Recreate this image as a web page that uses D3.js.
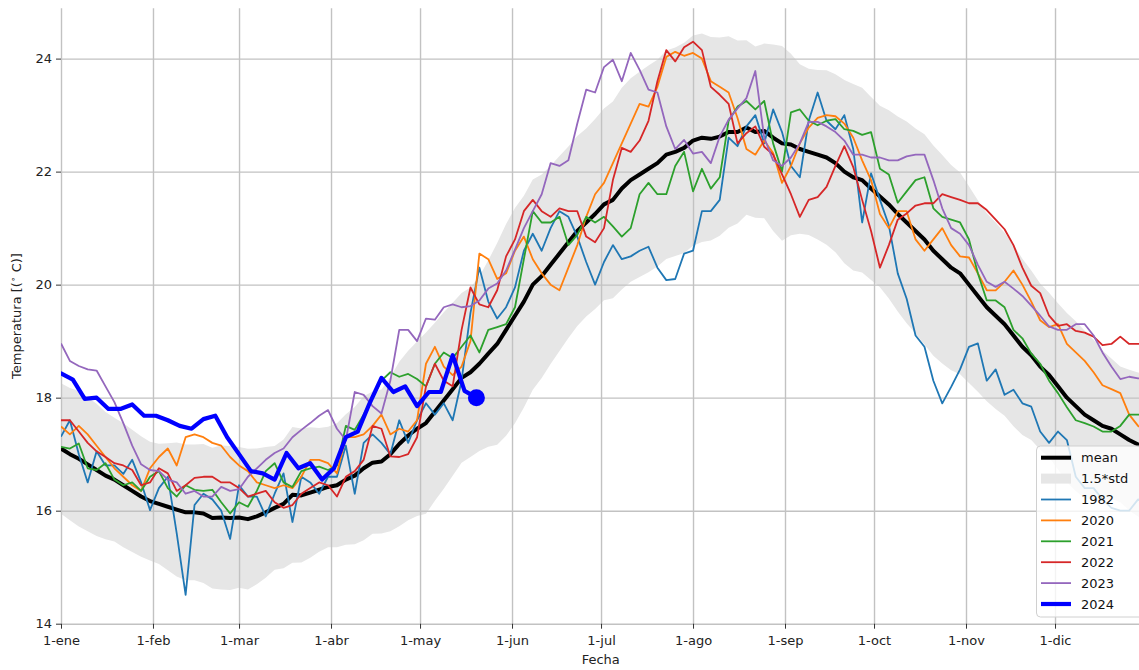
<!DOCTYPE html>
<html>
<head>
<meta charset="utf-8">
<script src="https://cdn.jsdelivr.net/npm/d3@7"></script>
<style>
  body { margin: 0; background: #fff; }
  svg { display: block; }
  text { font-family: "DejaVu Sans", sans-serif; }
</style>
</head>
<body>
<svg id="chart" width="1139" height="670"></svg>
<script>
// Sea surface temperature by day of year (leap-year calendar, day 0 = 1 January)
const STEP = 3;        // days between samples of the climatology and past years
const STEP_2024 = 4;   // days between samples of the current year

const monthStarts = [0, 31, 60, 91, 121, 152, 182, 213, 244, 274, 305, 335];
const monthLabels = ["1-ene", "1-feb", "1-mar", "1-abr", "1-may", "1-jun",
                     "1-jul", "1-ago", "1-sep", "1-oct", "1-nov", "1-dic"];
const yTicks = [14, 16, 18, 20, 22, 24];

const meanTemp = [
  17.10, 17.00, 16.92, 16.82, 16.72, 16.62, 16.55, 16.45, 16.35, 16.25,
  16.17, 16.12, 16.07, 16.02, 15.97, 15.97, 15.95, 15.87, 15.88, 15.87,
  15.88, 15.85, 15.90, 15.97, 16.05, 16.12, 16.28, 16.27, 16.32, 16.37,
  16.42, 16.45, 16.55, 16.62, 16.75, 16.85, 16.87, 17.00, 17.18, 17.33,
  17.45, 17.55, 17.75, 17.95, 18.15, 18.35, 18.45, 18.60, 18.78, 18.95,
  19.20, 19.45, 19.70, 20.00, 20.15, 20.35, 20.55, 20.75, 20.95, 21.10,
  21.25, 21.42, 21.50, 21.70, 21.85, 21.95, 22.05, 22.15, 22.30, 22.35,
  22.42, 22.55, 22.60, 22.58, 22.62, 22.70, 22.70, 22.78, 22.70, 22.72,
  22.60, 22.50, 22.48, 22.40, 22.35, 22.30, 22.25, 22.15, 22.00, 21.90,
  21.85, 21.70, 21.56, 21.42, 21.25, 21.10, 20.95, 20.80, 20.60, 20.45,
  20.30, 20.20, 20.00, 19.80, 19.60, 19.45, 19.30, 19.10, 18.90, 18.75,
  18.55, 18.40, 18.20, 18.00, 17.85, 17.70, 17.60, 17.50, 17.45, 17.35,
  17.25, 17.17, 17.10
];

const stdTemp = [
  0.77, 0.78, 0.80, 0.79, 0.78, 0.75, 0.73, 0.73, 0.72, 0.71,
  0.70, 0.71, 0.75, 0.79, 0.80, 0.80, 0.82, 0.83, 0.85, 0.85,
  0.83, 0.83, 0.80, 0.77, 0.73, 0.76, 0.80, 0.79, 0.77, 0.73,
  0.71, 0.73, 0.77, 0.81, 0.85, 0.84, 0.85, 0.91, 0.97, 1.00,
  1.03, 1.07, 1.05, 1.04, 1.02, 1.00, 1.00, 1.03, 1.10, 1.19,
  1.25, 1.27, 1.25, 1.24, 1.20, 1.17, 1.15, 1.13, 1.12, 1.11,
  1.12, 1.13, 1.16, 1.19, 1.20, 1.21, 1.22, 1.22, 1.23, 1.23,
  1.24, 1.24, 1.23, 1.20, 1.17, 1.13, 1.08, 1.03, 1.01, 1.03,
  1.10, 1.15, 1.07, 1.00, 0.98, 1.00, 1.03, 1.05, 1.08, 1.10,
  1.09, 1.08, 1.07, 1.11, 1.15, 1.19, 1.21, 1.24, 1.24, 1.23,
  1.21, 1.19, 1.16, 1.13, 1.11, 1.10, 1.08, 1.07, 1.04, 1.00,
  0.98, 0.97, 0.98, 1.00, 1.00, 0.99, 0.95, 0.89, 0.83, 0.80,
  0.83, 0.85, 0.87
];

const temps1982 = [
  17.31, 17.60, 17.00, 16.50, 17.05, 16.80, 16.80, 16.65, 16.90, 16.50,
  16.01, 16.40, 16.60, 15.60, 14.51, 16.10, 16.30, 16.20, 16.00, 15.50,
  16.45, 16.25, 16.25, 15.90, 16.30, 16.66, 15.80, 16.60, 16.50, 16.30,
  16.60, 16.60, 17.15, 16.30, 17.20, 17.35, 17.20, 17.00, 17.60, 17.20,
  17.60, 17.90, 17.70, 17.90, 17.60, 18.30, 19.50, 20.30, 19.70, 19.40,
  19.60, 19.95, 20.60, 20.90, 20.60, 21.00, 21.30, 21.20, 20.85, 20.40,
  20.00, 20.40, 20.70, 20.45, 20.50, 20.60, 20.67, 20.30, 20.08, 20.10,
  20.55, 20.60, 21.30, 21.30, 21.50, 22.60, 22.45, 22.80, 23.00, 22.50,
  23.10, 22.70, 22.10, 21.90, 22.90, 23.40, 22.90, 22.75, 23.00, 22.40,
  21.10, 21.97, 21.50, 21.05, 20.20, 19.75, 19.10, 18.90, 18.30, 17.90,
  18.19, 18.50, 18.90, 18.96, 18.30, 18.50, 18.05, 18.14, 17.90, 17.84,
  17.40, 17.20, 17.40, 17.25, 16.60, 16.40, 16.40, 16.20, 16.05, 16.00,
  16.00, 16.20, 16.10
];

const temps2020 = [
  17.49, 17.35, 17.50, 17.35, 17.15, 16.95, 16.75, 16.60, 16.45, 16.35,
  16.75, 16.95, 17.10, 16.80, 17.30, 17.35, 17.30, 17.20, 17.15, 16.95,
  16.80, 16.70, 16.50, 16.45, 16.40, 16.45, 16.40, 16.60, 16.90, 16.90,
  16.84, 16.66, 17.30, 17.30, 17.35, 17.50, 17.70, 17.35, 17.45, 17.40,
  17.60, 18.60, 18.90, 18.55, 18.40, 18.55, 19.00, 20.55, 20.45, 20.10,
  20.20, 20.60, 20.85, 20.45, 20.20, 20.00, 19.90, 20.30, 20.70, 21.20,
  21.60, 21.80, 22.15, 22.50, 22.85, 23.20, 23.15, 23.50, 24.03, 24.12,
  24.05, 24.10, 24.00, 23.60, 23.50, 23.40, 22.95, 22.40, 22.30, 22.55,
  22.33, 21.80, 22.10, 22.50, 22.78, 22.95, 23.00, 22.98, 22.85, 22.60,
  22.20, 21.85, 21.25, 21.00, 21.30, 21.30, 20.80, 20.60, 20.80, 21.00,
  20.70, 20.50, 20.48, 20.20, 19.90, 19.90, 20.05, 20.25, 20.00, 19.70,
  19.37, 19.25, 19.30, 18.95, 18.80, 18.65, 18.45, 18.22, 18.15, 18.08,
  17.70, 17.50, 17.40
];

const temps2021 = [
  17.13, 17.10, 17.19, 16.75, 16.72, 16.84, 16.55, 16.45, 16.50, 16.35,
  16.60, 16.70, 16.40, 16.25, 16.45, 16.37, 16.35, 16.37, 16.15, 15.95,
  16.15, 16.07, 16.35, 16.70, 16.84, 16.50, 16.42, 16.70, 16.75, 16.78,
  16.72, 16.80, 17.50, 17.43, 17.70, 18.00, 18.30, 18.45, 18.37, 18.42,
  18.33, 18.20, 18.60, 18.80, 18.70, 18.90, 19.10, 18.80, 19.20, 19.25,
  19.30, 19.60, 20.45, 21.30, 21.10, 21.10, 21.20, 20.70, 20.88, 21.20,
  21.10, 21.20, 21.03, 20.85, 21.00, 21.60, 21.80, 21.60, 21.60, 22.10,
  22.35, 21.65, 22.05, 21.70, 21.90, 22.90, 23.15, 23.25, 23.10, 23.25,
  22.50, 22.00, 23.05, 23.10, 22.90, 22.82, 22.90, 22.93, 22.75, 22.72,
  22.65, 22.70, 22.05, 21.95, 21.45, 21.65, 21.85, 21.90, 21.35, 21.20,
  21.15, 21.10, 20.80, 20.20, 19.72, 19.72, 19.60, 19.20, 19.05, 18.78,
  18.60, 18.30, 18.08, 17.83, 17.60, 17.55, 17.49, 17.40, 17.40, 17.50,
  17.70, 17.70, 17.70
];

const temps2022 = [
  17.60, 17.60, 17.40, 17.20, 17.05, 16.95, 16.84, 16.80, 16.72, 16.45,
  16.50, 16.75, 16.66, 16.35, 16.45, 16.58, 16.60, 16.60, 16.50, 16.50,
  16.40, 16.25, 16.30, 16.35, 16.15, 16.05, 16.10, 16.30, 16.40, 16.50,
  16.45, 16.25, 16.60, 16.70, 16.90, 17.50, 17.45, 16.96, 16.95, 17.00,
  17.30, 18.20, 18.60, 18.30, 18.20, 19.20, 19.95, 19.65, 19.60, 19.90,
  20.50, 20.80, 21.30, 21.50, 21.30, 21.20, 21.35, 21.30, 21.30, 20.85,
  20.75, 21.00, 21.85, 22.42, 22.35, 22.55, 22.90, 23.60, 24.15, 23.95,
  24.20, 24.30, 24.15, 23.50, 23.36, 23.20, 22.50, 22.68, 22.80, 22.44,
  22.30, 21.95, 21.60, 21.20, 21.50, 21.55, 21.73, 22.10, 22.45, 22.08,
  21.50, 20.95, 20.30, 20.70, 21.15, 21.26, 21.40, 21.44, 21.44, 21.60,
  21.55, 21.50, 21.44, 21.44, 21.32, 21.15, 20.98, 20.70, 20.30, 19.98,
  19.85, 19.45, 19.27, 19.30, 19.18, 19.15, 19.08, 18.93, 18.95, 19.08,
  18.95, 18.95, 18.95
];

const temps2023 = [
  18.96, 18.65, 18.56, 18.50, 18.48, 18.20, 17.92, 17.55, 17.15, 16.82,
  16.72, 16.70, 16.55, 16.50, 16.30, 16.35, 16.25, 16.25, 16.42, 16.35,
  16.38, 16.60, 16.75, 16.90, 17.02, 17.10, 17.30, 17.43, 17.55, 17.68,
  17.78, 17.45, 17.25, 18.10, 18.05, 17.85, 17.72, 18.30, 19.20, 19.20,
  19.00, 19.40, 19.38, 19.60, 19.65, 19.60, 19.62, 19.72, 19.93, 20.02,
  20.25, 20.62, 21.00, 21.30, 21.60, 22.15, 22.10, 22.20, 22.85, 23.45,
  23.40, 23.85, 23.98, 23.60, 24.10, 23.80, 23.45, 23.40, 22.80, 22.40,
  22.56, 22.32, 22.35, 22.15, 22.62, 22.92, 23.12, 23.30, 23.78, 22.60,
  22.20, 22.10, 22.25, 22.50, 22.88, 22.88, 22.80, 22.70, 22.55, 22.30,
  22.30, 22.25, 22.25, 22.20, 22.20, 22.27, 22.30, 22.30, 21.85, 21.35,
  21.00, 20.90, 20.70, 20.35, 20.05, 19.96, 20.05, 19.93, 19.80, 19.63,
  19.45, 19.26, 19.20, 19.20, 19.30, 19.30, 19.10, 18.80, 18.55, 18.33,
  18.37, 18.34, 18.34
];

const temps2024 = [
  18.43, 18.32, 17.98, 18.00, 17.80, 17.80, 17.88, 17.68, 17.68, 17.60,
  17.50, 17.45, 17.62, 17.68, 17.30, 17.00, 16.70, 16.66, 16.55, 17.02,
  16.75, 16.84, 16.55, 16.75, 17.30, 17.40, 17.90, 18.35, 18.10, 18.20,
  17.85, 18.10, 18.10, 18.75, 18.12, 18.00
];

const pastYears = ["1982", "2020", "2021", "2022", "2023"];
const pastSeries = [temps1982, temps2020, temps2021, temps2022, temps2023];
const pastColors = ["#1f77b4", "#ff7f0e", "#2ca02c", "#d62728", "#9467bd"];

const svg = d3.select("#chart");
const W = 1139, H = 670;
const plot = { left: 61, right: 1147, top: 8.3, bottom: 623.7 };

svg.append("rect").attr("width", W).attr("height", H).attr("fill", "#fff");

const x = d3.scaleLinear().domain([0, 366]).range([plot.left, plot.right]);
const y = d3.scaleLinear().domain([14, 24.89]).range([plot.bottom, plot.top]);

svg.append("defs").append("clipPath").attr("id", "plot-clip")
  .append("rect")
  .attr("x", plot.left).attr("y", plot.top)
  .attr("width", plot.right - plot.left).attr("height", plot.bottom - plot.top);

const body = svg.append("g").attr("clip-path", "url(#plot-clip)");

// climatological spread: mean ± 1.5 std
const band = d3.area()
  .x((d, i) => x(i * STEP))
  .y0((d, i) => y(meanTemp[i] - 1.5 * d))
  .y1((d, i) => y(meanTemp[i] + 1.5 * d));
body.append("path").datum(stdTemp)
  .attr("d", band).attr("fill", "#e6e6e6");

// grid
const gridColor = "#c2c2c2";
const gx = svg.append("g").attr("transform", `translate(0,${plot.bottom})`)
  .call(d3.axisBottom(x).tickValues(monthStarts).tickSize(-(plot.bottom - plot.top)).tickFormat(""));
gx.select(".domain").remove();
gx.selectAll("line").attr("stroke", gridColor).attr("stroke-width", 1.4);

const gy = svg.append("g").attr("transform", `translate(${plot.left},0)`)
  .call(d3.axisLeft(y).tickValues(yTicks).tickSize(-(plot.right - plot.left)).tickFormat(""));
gy.select(".domain").remove();
gy.selectAll("line").attr("stroke", gridColor).attr("stroke-width", 1.4);

const lines = svg.append("g").attr("clip-path", "url(#plot-clip)");
const lineAt = step => d3.line().x((d, i) => x(i * step)).y(d => y(d));

lines.append("path").datum(meanTemp)
  .attr("d", lineAt(STEP))
  .attr("fill", "none").attr("stroke", "#000").attr("stroke-width", 4)
  .attr("stroke-linejoin", "round");

pastSeries.forEach((vals, k) => {
  lines.append("path").datum(vals)
    .attr("d", lineAt(STEP))
    .attr("fill", "none").attr("stroke", pastColors[k]).attr("stroke-width", 1.8)
    .attr("stroke-linejoin", "round");
});

lines.append("path").datum(temps2024)
  .attr("d", lineAt(STEP_2024))
  .attr("fill", "none").attr("stroke", "#0000ff").attr("stroke-width", 4.2)
  .attr("stroke-linejoin", "round").attr("stroke-linecap", "round");

const lastIdx = temps2024.length - 1;
lines.append("circle")
  .attr("cx", x(lastIdx * STEP_2024)).attr("cy", y(temps2024[lastIdx]))
  .attr("r", 8.5).attr("fill", "#0000ff");

// axes ticks and labels
const tickColor = "#333";
const ax = svg.append("g").attr("transform", `translate(0,${plot.bottom})`)
  .call(d3.axisBottom(x).tickValues(monthStarts)
    .tickFormat((d, i) => monthLabels[i]).tickSize(5).tickPadding(7));
ax.select(".domain").remove();
ax.selectAll("line").attr("stroke", tickColor);
ax.selectAll("text").attr("fill", "#222").attr("font-size", 13)
  .attr("font-family", "DejaVu Sans, sans-serif");

const ay = svg.append("g").attr("transform", `translate(${plot.left},0)`)
  .call(d3.axisLeft(y).tickValues(yTicks).tickFormat(d3.format("d")).tickSize(5).tickPadding(4));
ay.select(".domain").remove();
ay.selectAll("line").attr("stroke", tickColor);
ay.selectAll("text").attr("fill", "#222").attr("font-size", 13)
  .attr("font-family", "DejaVu Sans, sans-serif");

svg.append("text")
  .attr("x", 600.7).attr("y", 664)
  .attr("text-anchor", "middle").attr("font-size", 13).attr("fill", "#222")
  .text("Fecha");

const yl = svg.append("text")
  .attr("transform", "translate(21,316) rotate(-90)")
  .attr("text-anchor", "middle").attr("font-size", 13).attr("fill", "#222");
yl.append("tspan").text("Temperatura [(");
yl.append("tspan").attr("dy", -5).attr("font-size", 9).text("∘");
yl.append("tspan").attr("dy", 5).text(" C)]");

// legend
const legend = svg.append("g");
legend.append("rect")
  .attr("x", 1036.5).attr("y", 446).attr("width", 120).attr("height", 171)
  .attr("rx", 4).attr("fill", "#fff").attr("fill-opacity", 0.8)
  .attr("stroke", "#d0d0d0").attr("stroke-width", 1);

const legendItems = [
  { label: "mean", kind: "line", color: "#000", width: 4 },
  { label: "1.5*std", kind: "patch", color: "#e6e6e6" },
  ...pastYears.map((yr, k) => ({ label: yr, kind: "line", color: pastColors[k], width: 1.8 })),
  { label: "2024", kind: "line", color: "#0000ff", width: 4.2 }
];
legendItems.forEach((it, i) => {
  const cy = 457.7 + i * 20.9;
  if (it.kind === "line") {
    legend.append("line")
      .attr("x1", 1041).attr("x2", 1071).attr("y1", cy).attr("y2", cy)
      .attr("stroke", it.color).attr("stroke-width", it.width);
  } else {
    legend.append("rect")
      .attr("x", 1041).attr("y", cy - 5).attr("width", 30).attr("height", 10)
      .attr("fill", it.color);
  }
  legend.append("text")
    .attr("x", 1081).attr("y", cy).attr("dy", "0.35em")
    .attr("font-size", 13).attr("fill", "#111")
    .text(it.label);
});
</script>
</body>
</html>
